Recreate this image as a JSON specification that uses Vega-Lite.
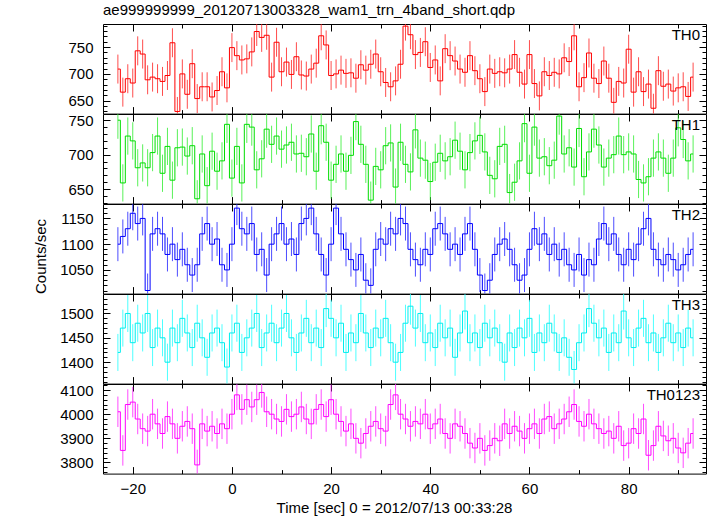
{
"$schema":"https://vega.github.io/schema/vega-lite/v6.json",
"padding":{"left":33,"top":3,"right":5,"bottom":5},
"bounds":"flush",
"title":{"text":"ae999999999_20120713003328_wam1_trn_4band_short.qdp","anchor":"start","frame":"group","fontSize":15,"fontWeight":"normal","font":"Liberation Sans","color":"black","offset":5,"dx":0},
"datasets":{
"e":[{"b":"TH0","e":27},{"b":"TH1","e":27},{"b":"TH2","e":33},{"b":"TH3","e":38},{"b":"TH0123","e":63}],
"d":[
{"b":"TH0","t":-23,"v":709},{"b":"TH0","t":-22,"v":666},{"b":"TH0","t":-21,"v":691},{"b":"TH0","t":-20,"v":683},{"b":"TH0","t":-19,"v":743},{"b":"TH0","t":-18,"v":737},{"b":"TH0","t":-17,"v":689},{"b":"TH0","t":-16,"v":694},{"b":"TH0","t":-15,"v":691},{"b":"TH0","t":-14,"v":686},{"b":"TH0","t":-13,"v":697},{"b":"TH0","t":-12,"v":758},{"b":"TH0","t":-11,"v":630},{"b":"TH0","t":-10,"v":700},{"b":"TH0","t":-9,"v":662},{"b":"TH0","t":-8,"v":719},{"b":"TH0","t":-7,"v":654},{"b":"TH0","t":-6,"v":676},{"b":"TH0","t":-5,"v":676},{"b":"TH0","t":-4,"v":657},{"b":"TH0","t":-3,"v":669},{"b":"TH0","t":-2,"v":704},{"b":"TH0","t":-1,"v":674},{"b":"TH0","t":0,"v":749},{"b":"TH0","t":1,"v":734},{"b":"TH0","t":2,"v":726},{"b":"TH0","t":3,"v":728},{"b":"TH0","t":4,"v":741},{"b":"TH0","t":5,"v":779},{"b":"TH0","t":6,"v":768},{"b":"TH0","t":7,"v":772},{"b":"TH0","t":8,"v":694},{"b":"TH0","t":9,"v":759},{"b":"TH0","t":10,"v":704},{"b":"TH0","t":11,"v":722},{"b":"TH0","t":12,"v":699},{"b":"TH0","t":13,"v":732},{"b":"TH0","t":14,"v":698},{"b":"TH0","t":15,"v":696},{"b":"TH0","t":16,"v":709},{"b":"TH0","t":17,"v":720},{"b":"TH0","t":18,"v":771},{"b":"TH0","t":19,"v":754},{"b":"TH0","t":20,"v":697},{"b":"TH0","t":21,"v":700},{"b":"TH0","t":22,"v":707},{"b":"TH0","t":23,"v":701},{"b":"TH0","t":24,"v":702},{"b":"TH0","t":25,"v":692},{"b":"TH0","t":26,"v":717},{"b":"TH0","t":27,"v":707},{"b":"TH0","t":28,"v":718},{"b":"TH0","t":29,"v":737},{"b":"TH0","t":30,"v":704},{"b":"TH0","t":31,"v":684},{"b":"TH0","t":32,"v":676},{"b":"TH0","t":33,"v":687},{"b":"TH0","t":34,"v":718},{"b":"TH0","t":35,"v":789},{"b":"TH0","t":36,"v":773},{"b":"TH0","t":37,"v":736},{"b":"TH0","t":38,"v":740},{"b":"TH0","t":39,"v":760},{"b":"TH0","t":40,"v":712},{"b":"TH0","t":41,"v":726},{"b":"TH0","t":42,"v":687},{"b":"TH0","t":43,"v":747},{"b":"TH0","t":44,"v":734},{"b":"TH0","t":45,"v":724},{"b":"TH0","t":46,"v":709},{"b":"TH0","t":47,"v":703},{"b":"TH0","t":48,"v":734},{"b":"TH0","t":49,"v":706},{"b":"TH0","t":50,"v":691},{"b":"TH0","t":51,"v":667},{"b":"TH0","t":52,"v":709},{"b":"TH0","t":53,"v":701},{"b":"TH0","t":54,"v":704},{"b":"TH0","t":55,"v":702},{"b":"TH0","t":56,"v":709},{"b":"TH0","t":57,"v":736},{"b":"TH0","t":58,"v":703},{"b":"TH0","t":59,"v":681},{"b":"TH0","t":60,"v":736},{"b":"TH0","t":61,"v":682},{"b":"TH0","t":62,"v":659},{"b":"TH0","t":63,"v":704},{"b":"TH0","t":64,"v":697},{"b":"TH0","t":65,"v":703},{"b":"TH0","t":66,"v":700},{"b":"TH0","t":67,"v":730},{"b":"TH0","t":68,"v":723},{"b":"TH0","t":69,"v":771},{"b":"TH0","t":70,"v":676},{"b":"TH0","t":71,"v":693},{"b":"TH0","t":72,"v":739},{"b":"TH0","t":73,"v":692},{"b":"TH0","t":74,"v":682},{"b":"TH0","t":75,"v":724},{"b":"TH0","t":76,"v":692},{"b":"TH0","t":77,"v":647},{"b":"TH0","t":78,"v":686},{"b":"TH0","t":79,"v":683},{"b":"TH0","t":80,"v":746},{"b":"TH0","t":81,"v":666},{"b":"TH0","t":82,"v":704},{"b":"TH0","t":83,"v":667},{"b":"TH0","t":84,"v":681},{"b":"TH0","t":85,"v":636},{"b":"TH0","t":86,"v":706},{"b":"TH0","t":87,"v":677},{"b":"TH0","t":88,"v":681},{"b":"TH0","t":89,"v":668},{"b":"TH0","t":90,"v":674},{"b":"TH0","t":91,"v":676},{"b":"TH0","t":92,"v":658},{"b":"TH0","t":93,"v":694},
{"b":"TH1","t":-23,"v":750},{"b":"TH1","t":-22,"v":659},{"b":"TH1","t":-21,"v":727},{"b":"TH1","t":-20,"v":720},{"b":"TH1","t":-19,"v":681},{"b":"TH1","t":-18,"v":688},{"b":"TH1","t":-17,"v":681},{"b":"TH1","t":-16,"v":703},{"b":"TH1","t":-15,"v":727},{"b":"TH1","t":-14,"v":673},{"b":"TH1","t":-13,"v":712},{"b":"TH1","t":-12,"v":663},{"b":"TH1","t":-11,"v":710},{"b":"TH1","t":-10,"v":711},{"b":"TH1","t":-9,"v":698},{"b":"TH1","t":-8,"v":713},{"b":"TH1","t":-7,"v":636},{"b":"TH1","t":-6,"v":701},{"b":"TH1","t":-5,"v":655},{"b":"TH1","t":-4,"v":705},{"b":"TH1","t":-3,"v":676},{"b":"TH1","t":-2,"v":691},{"b":"TH1","t":-1,"v":744},{"b":"TH1","t":0,"v":666},{"b":"TH1","t":1,"v":712},{"b":"TH1","t":2,"v":659},{"b":"TH1","t":3,"v":744},{"b":"TH1","t":4,"v":740},{"b":"TH1","t":5,"v":678},{"b":"TH1","t":6,"v":694},{"b":"TH1","t":7,"v":737},{"b":"TH1","t":8,"v":715},{"b":"TH1","t":9,"v":727},{"b":"TH1","t":10,"v":708},{"b":"TH1","t":11,"v":714},{"b":"TH1","t":12,"v":718},{"b":"TH1","t":13,"v":701},{"b":"TH1","t":14,"v":702},{"b":"TH1","t":15,"v":697},{"b":"TH1","t":16,"v":730},{"b":"TH1","t":17,"v":676},{"b":"TH1","t":18,"v":742},{"b":"TH1","t":19,"v":718},{"b":"TH1","t":20,"v":663},{"b":"TH1","t":21,"v":686},{"b":"TH1","t":22,"v":701},{"b":"TH1","t":23,"v":676},{"b":"TH1","t":24,"v":699},{"b":"TH1","t":25,"v":748},{"b":"TH1","t":26,"v":715},{"b":"TH1","t":27,"v":686},{"b":"TH1","t":28,"v":634},{"b":"TH1","t":29,"v":683},{"b":"TH1","t":30,"v":678},{"b":"TH1","t":31,"v":713},{"b":"TH1","t":32,"v":717},{"b":"TH1","t":33,"v":653},{"b":"TH1","t":34,"v":718},{"b":"TH1","t":35,"v":686},{"b":"TH1","t":36,"v":675},{"b":"TH1","t":37,"v":736},{"b":"TH1","t":38,"v":695},{"b":"TH1","t":39,"v":692},{"b":"TH1","t":40,"v":661},{"b":"TH1","t":41,"v":689},{"b":"TH1","t":42,"v":702},{"b":"TH1","t":43,"v":691},{"b":"TH1","t":44,"v":697},{"b":"TH1","t":45,"v":721},{"b":"TH1","t":46,"v":705},{"b":"TH1","t":47,"v":678},{"b":"TH1","t":48,"v":703},{"b":"TH1","t":49,"v":720},{"b":"TH1","t":50,"v":728},{"b":"TH1","t":51,"v":704},{"b":"TH1","t":52,"v":670},{"b":"TH1","t":53,"v":665},{"b":"TH1","t":54,"v":712},{"b":"TH1","t":55,"v":715},{"b":"TH1","t":56,"v":645},{"b":"TH1","t":57,"v":660},{"b":"TH1","t":58,"v":691},{"b":"TH1","t":59,"v":745},{"b":"TH1","t":60,"v":673},{"b":"TH1","t":61,"v":740},{"b":"TH1","t":62,"v":695},{"b":"TH1","t":63,"v":697},{"b":"TH1","t":64,"v":684},{"b":"TH1","t":65,"v":692},{"b":"TH1","t":66,"v":756},{"b":"TH1","t":67,"v":701},{"b":"TH1","t":68,"v":710},{"b":"TH1","t":69,"v":682},{"b":"TH1","t":70,"v":738},{"b":"TH1","t":71,"v":668},{"b":"TH1","t":72,"v":704},{"b":"TH1","t":73,"v":737},{"b":"TH1","t":74,"v":714},{"b":"TH1","t":75,"v":682},{"b":"TH1","t":76,"v":695},{"b":"TH1","t":77,"v":700},{"b":"TH1","t":78,"v":727},{"b":"TH1","t":79,"v":700},{"b":"TH1","t":80,"v":704},{"b":"TH1","t":81,"v":701},{"b":"TH1","t":82,"v":664},{"b":"TH1","t":83,"v":659},{"b":"TH1","t":84,"v":668},{"b":"TH1","t":85,"v":695},{"b":"TH1","t":86,"v":704},{"b":"TH1","t":87,"v":695},{"b":"TH1","t":88,"v":673},{"b":"TH1","t":89,"v":695},{"b":"TH1","t":90,"v":739},{"b":"TH1","t":91,"v":722},{"b":"TH1","t":92,"v":691},{"b":"TH1","t":93,"v":701},
{"b":"TH2","t":-23,"v":1100},{"b":"TH2","t":-22,"v":1115},{"b":"TH2","t":-21,"v":1130},{"b":"TH2","t":-20,"v":1160},{"b":"TH2","t":-19,"v":1140},{"b":"TH2","t":-18,"v":1150},{"b":"TH2","t":-17,"v":1010},{"b":"TH2","t":-16,"v":1120},{"b":"TH2","t":-15,"v":1130},{"b":"TH2","t":-14,"v":1120},{"b":"TH2","t":-13,"v":1080},{"b":"TH2","t":-12,"v":1100},{"b":"TH2","t":-11,"v":1070},{"b":"TH2","t":-10,"v":1090},{"b":"TH2","t":-9,"v":1060},{"b":"TH2","t":-8,"v":1040},{"b":"TH2","t":-7,"v":1060},{"b":"TH2","t":-6,"v":1120},{"b":"TH2","t":-5,"v":1140},{"b":"TH2","t":-4,"v":1100},{"b":"TH2","t":-3,"v":1110},{"b":"TH2","t":-2,"v":1060},{"b":"TH2","t":-1,"v":1050},{"b":"TH2","t":0,"v":1100},{"b":"TH2","t":1,"v":1170},{"b":"TH2","t":2,"v":1130},{"b":"TH2","t":3,"v":1120},{"b":"TH2","t":4,"v":1140},{"b":"TH2","t":5,"v":1080},{"b":"TH2","t":6,"v":1090},{"b":"TH2","t":7,"v":1040},{"b":"TH2","t":8,"v":1100},{"b":"TH2","t":9,"v":1120},{"b":"TH2","t":10,"v":1140},{"b":"TH2","t":11,"v":1100},{"b":"TH2","t":12,"v":1110},{"b":"TH2","t":13,"v":1080},{"b":"TH2","t":14,"v":1140},{"b":"TH2","t":15,"v":1150},{"b":"TH2","t":16,"v":1170},{"b":"TH2","t":17,"v":1120},{"b":"TH2","t":18,"v":1080},{"b":"TH2","t":19,"v":1040},{"b":"TH2","t":20,"v":1100},{"b":"TH2","t":21,"v":1170},{"b":"TH2","t":22,"v":1120},{"b":"TH2","t":23,"v":1090},{"b":"TH2","t":24,"v":1070},{"b":"TH2","t":25,"v":1050},{"b":"TH2","t":26,"v":1080},{"b":"TH2","t":27,"v":1030},{"b":"TH2","t":28,"v":1020},{"b":"TH2","t":29,"v":1090},{"b":"TH2","t":30,"v":1110},{"b":"TH2","t":31,"v":1100},{"b":"TH2","t":32,"v":1130},{"b":"TH2","t":33,"v":1120},{"b":"TH2","t":34,"v":1150},{"b":"TH2","t":35,"v":1140},{"b":"TH2","t":36,"v":1090},{"b":"TH2","t":37,"v":1070},{"b":"TH2","t":38,"v":1060},{"b":"TH2","t":39,"v":1090},{"b":"TH2","t":40,"v":1080},{"b":"TH2","t":41,"v":1130},{"b":"TH2","t":42,"v":1140},{"b":"TH2","t":43,"v":1120},{"b":"TH2","t":44,"v":1090},{"b":"TH2","t":45,"v":1100},{"b":"TH2","t":46,"v":1080},{"b":"TH2","t":47,"v":1120},{"b":"TH2","t":48,"v":1140},{"b":"TH2","t":49,"v":1090},{"b":"TH2","t":50,"v":1040},{"b":"TH2","t":51,"v":1010},{"b":"TH2","t":52,"v":1030},{"b":"TH2","t":53,"v":1080},{"b":"TH2","t":54,"v":1100},{"b":"TH2","t":55,"v":1110},{"b":"TH2","t":56,"v":1090},{"b":"TH2","t":57,"v":1060},{"b":"TH2","t":58,"v":1030},{"b":"TH2","t":59,"v":1040},{"b":"TH2","t":60,"v":1090},{"b":"TH2","t":61,"v":1130},{"b":"TH2","t":62,"v":1100},{"b":"TH2","t":63,"v":1120},{"b":"TH2","t":64,"v":1080},{"b":"TH2","t":65,"v":1100},{"b":"TH2","t":66,"v":1070},{"b":"TH2","t":67,"v":1090},{"b":"TH2","t":68,"v":1060},{"b":"TH2","t":69,"v":1050},{"b":"TH2","t":70,"v":1080},{"b":"TH2","t":71,"v":1040},{"b":"TH2","t":72,"v":1070},{"b":"TH2","t":73,"v":1060},{"b":"TH2","t":74,"v":1110},{"b":"TH2","t":75,"v":1140},{"b":"TH2","t":76,"v":1100},{"b":"TH2","t":77,"v":1120},{"b":"TH2","t":78,"v":1080},{"b":"TH2","t":79,"v":1060},{"b":"TH2","t":80,"v":1090},{"b":"TH2","t":81,"v":1070},{"b":"TH2","t":82,"v":1100},{"b":"TH2","t":83,"v":1130},{"b":"TH2","t":84,"v":1150},{"b":"TH2","t":85,"v":1090},{"b":"TH2","t":86,"v":1070},{"b":"TH2","t":87,"v":1060},{"b":"TH2","t":88,"v":1080},{"b":"TH2","t":89,"v":1070},{"b":"TH2","t":90,"v":1050},{"b":"TH2","t":91,"v":1060},{"b":"TH2","t":92,"v":1080},{"b":"TH2","t":93,"v":1090},
{"b":"TH3","t":-23,"v":1420},{"b":"TH3","t":-22,"v":1470},{"b":"TH3","t":-21,"v":1500},{"b":"TH3","t":-20,"v":1440},{"b":"TH3","t":-19,"v":1480},{"b":"TH3","t":-18,"v":1460},{"b":"TH3","t":-17,"v":1500},{"b":"TH3","t":-16,"v":1430},{"b":"TH3","t":-15,"v":1470},{"b":"TH3","t":-14,"v":1450},{"b":"TH3","t":-13,"v":1400},{"b":"TH3","t":-12,"v":1470},{"b":"TH3","t":-11,"v":1440},{"b":"TH3","t":-10,"v":1490},{"b":"TH3","t":-9,"v":1460},{"b":"TH3","t":-8,"v":1430},{"b":"TH3","t":-7,"v":1480},{"b":"TH3","t":-6,"v":1450},{"b":"TH3","t":-5,"v":1410},{"b":"TH3","t":-4,"v":1460},{"b":"TH3","t":-3,"v":1470},{"b":"TH3","t":-2,"v":1440},{"b":"TH3","t":-1,"v":1390},{"b":"TH3","t":0,"v":1460},{"b":"TH3","t":1,"v":1480},{"b":"TH3","t":2,"v":1420},{"b":"TH3","t":3,"v":1450},{"b":"TH3","t":4,"v":1470},{"b":"TH3","t":5,"v":1500},{"b":"TH3","t":6,"v":1430},{"b":"TH3","t":7,"v":1460},{"b":"TH3","t":8,"v":1480},{"b":"TH3","t":9,"v":1440},{"b":"TH3","t":10,"v":1470},{"b":"TH3","t":11,"v":1500},{"b":"TH3","t":12,"v":1450},{"b":"TH3","t":13,"v":1420},{"b":"TH3","t":14,"v":1460},{"b":"TH3","t":15,"v":1490},{"b":"TH3","t":16,"v":1440},{"b":"TH3","t":17,"v":1470},{"b":"TH3","t":18,"v":1430},{"b":"TH3","t":19,"v":1510},{"b":"TH3","t":20,"v":1490},{"b":"TH3","t":21,"v":1450},{"b":"TH3","t":22,"v":1480},{"b":"TH3","t":23,"v":1420},{"b":"TH3","t":24,"v":1460},{"b":"TH3","t":25,"v":1440},{"b":"TH3","t":26,"v":1500},{"b":"TH3","t":27,"v":1460},{"b":"TH3","t":28,"v":1430},{"b":"TH3","t":29,"v":1470},{"b":"TH3","t":30,"v":1450},{"b":"TH3","t":31,"v":1490},{"b":"TH3","t":32,"v":1440},{"b":"TH3","t":33,"v":1400},{"b":"TH3","t":34,"v":1420},{"b":"TH3","t":35,"v":1480},{"b":"TH3","t":36,"v":1515},{"b":"TH3","t":37,"v":1470},{"b":"TH3","t":38,"v":1500},{"b":"TH3","t":39,"v":1440},{"b":"TH3","t":40,"v":1460},{"b":"TH3","t":41,"v":1430},{"b":"TH3","t":42,"v":1480},{"b":"TH3","t":43,"v":1450},{"b":"TH3","t":44,"v":1470},{"b":"TH3","t":45,"v":1410},{"b":"TH3","t":46,"v":1460},{"b":"TH3","t":47,"v":1505},{"b":"TH3","t":48,"v":1440},{"b":"TH3","t":49,"v":1460},{"b":"TH3","t":50,"v":1430},{"b":"TH3","t":51,"v":1480},{"b":"TH3","t":52,"v":1450},{"b":"TH3","t":53,"v":1470},{"b":"TH3","t":54,"v":1440},{"b":"TH3","t":55,"v":1400},{"b":"TH3","t":56,"v":1460},{"b":"TH3","t":57,"v":1430},{"b":"TH3","t":58,"v":1470},{"b":"TH3","t":59,"v":1450},{"b":"TH3","t":60,"v":1490},{"b":"TH3","t":61,"v":1420},{"b":"TH3","t":62,"v":1460},{"b":"TH3","t":63,"v":1440},{"b":"TH3","t":64,"v":1480},{"b":"TH3","t":65,"v":1460},{"b":"TH3","t":66,"v":1420},{"b":"TH3","t":67,"v":1450},{"b":"TH3","t":68,"v":1410},{"b":"TH3","t":69,"v":1385},{"b":"TH3","t":70,"v":1440},{"b":"TH3","t":71,"v":1460},{"b":"TH3","t":72,"v":1510},{"b":"TH3","t":73,"v":1480},{"b":"TH3","t":74,"v":1450},{"b":"TH3","t":75,"v":1470},{"b":"TH3","t":76,"v":1420},{"b":"TH3","t":77,"v":1460},{"b":"TH3","t":78,"v":1440},{"b":"TH3","t":79,"v":1505},{"b":"TH3","t":80,"v":1450},{"b":"TH3","t":81,"v":1430},{"b":"TH3","t":82,"v":1470},{"b":"TH3","t":83,"v":1490},{"b":"TH3","t":84,"v":1440},{"b":"TH3","t":85,"v":1460},{"b":"TH3","t":86,"v":1420},{"b":"TH3","t":87,"v":1450},{"b":"TH3","t":88,"v":1480},{"b":"TH3","t":89,"v":1440},{"b":"TH3","t":90,"v":1460},{"b":"TH3","t":91,"v":1430},{"b":"TH3","t":92,"v":1470},{"b":"TH3","t":93,"v":1450},
{"b":"TH0123","t":-23,"v":4010},{"b":"TH0123","t":-22,"v":3850},{"b":"TH0123","t":-21,"v":4040},{"b":"TH0123","t":-20,"v":4050},{"b":"TH0123","t":-19,"v":3980},{"b":"TH0123","t":-18,"v":3940},{"b":"TH0123","t":-17,"v":3930},{"b":"TH0123","t":-16,"v":4000},{"b":"TH0123","t":-15,"v":3960},{"b":"TH0123","t":-14,"v":3920},{"b":"TH0123","t":-13,"v":3990},{"b":"TH0123","t":-12,"v":3960},{"b":"TH0123","t":-11,"v":3900},{"b":"TH0123","t":-10,"v":3950},{"b":"TH0123","t":-9,"v":3970},{"b":"TH0123","t":-8,"v":3940},{"b":"TH0123","t":-7,"v":3790},{"b":"TH0123","t":-6,"v":3960},{"b":"TH0123","t":-5,"v":3930},{"b":"TH0123","t":-4,"v":3950},{"b":"TH0123","t":-3,"v":3920},{"b":"TH0123","t":-2,"v":3960},{"b":"TH0123","t":-1,"v":3940},{"b":"TH0123","t":0,"v":4000},{"b":"TH0123","t":1,"v":4080},{"b":"TH0123","t":2,"v":4020},{"b":"TH0123","t":3,"v":4060},{"b":"TH0123","t":4,"v":4030},{"b":"TH0123","t":5,"v":4060},{"b":"TH0123","t":6,"v":4090},{"b":"TH0123","t":7,"v":4010},{"b":"TH0123","t":8,"v":4000},{"b":"TH0123","t":9,"v":3980},{"b":"TH0123","t":10,"v":3970},{"b":"TH0123","t":11,"v":4020},{"b":"TH0123","t":12,"v":3990},{"b":"TH0123","t":13,"v":4000},{"b":"TH0123","t":14,"v":4030},{"b":"TH0123","t":15,"v":3980},{"b":"TH0123","t":16,"v":3960},{"b":"TH0123","t":17,"v":4020},{"b":"TH0123","t":18,"v":4040},{"b":"TH0123","t":19,"v":3990},{"b":"TH0123","t":20,"v":4060},{"b":"TH0123","t":21,"v":4000},{"b":"TH0123","t":22,"v":3970},{"b":"TH0123","t":23,"v":3930},{"b":"TH0123","t":24,"v":3960},{"b":"TH0123","t":25,"v":3900},{"b":"TH0123","t":26,"v":3880},{"b":"TH0123","t":27,"v":3920},{"b":"TH0123","t":28,"v":3950},{"b":"TH0123","t":29,"v":3970},{"b":"TH0123","t":30,"v":3940},{"b":"TH0123","t":31,"v":3930},{"b":"TH0123","t":32,"v":4040},{"b":"TH0123","t":33,"v":4080},{"b":"TH0123","t":34,"v":4000},{"b":"TH0123","t":35,"v":3980},{"b":"TH0123","t":36,"v":3950},{"b":"TH0123","t":37,"v":3970},{"b":"TH0123","t":38,"v":3960},{"b":"TH0123","t":39,"v":4000},{"b":"TH0123","t":40,"v":3940},{"b":"TH0123","t":41,"v":3960},{"b":"TH0123","t":42,"v":3980},{"b":"TH0123","t":43,"v":3920},{"b":"TH0123","t":44,"v":3900},{"b":"TH0123","t":45,"v":3960},{"b":"TH0123","t":46,"v":3950},{"b":"TH0123","t":47,"v":3920},{"b":"TH0123","t":48,"v":3880},{"b":"TH0123","t":49,"v":3860},{"b":"TH0123","t":50,"v":3900},{"b":"TH0123","t":51,"v":3850},{"b":"TH0123","t":52,"v":3870},{"b":"TH0123","t":53,"v":3900},{"b":"TH0123","t":54,"v":3890},{"b":"TH0123","t":55,"v":3960},{"b":"TH0123","t":56,"v":3920},{"b":"TH0123","t":57,"v":3950},{"b":"TH0123","t":58,"v":3930},{"b":"TH0123","t":59,"v":3900},{"b":"TH0123","t":60,"v":3940},{"b":"TH0123","t":61,"v":3960},{"b":"TH0123","t":62,"v":3920},{"b":"TH0123","t":63,"v":3980},{"b":"TH0123","t":64,"v":3990},{"b":"TH0123","t":65,"v":3940},{"b":"TH0123","t":66,"v":3960},{"b":"TH0123","t":67,"v":3980},{"b":"TH0123","t":68,"v":4010},{"b":"TH0123","t":69,"v":4040},{"b":"TH0123","t":70,"v":3970},{"b":"TH0123","t":71,"v":3950},{"b":"TH0123","t":72,"v":4000},{"b":"TH0123","t":73,"v":3960},{"b":"TH0123","t":74,"v":3940},{"b":"TH0123","t":75,"v":3920},{"b":"TH0123","t":76,"v":3930},{"b":"TH0123","t":77,"v":3900},{"b":"TH0123","t":78,"v":3950},{"b":"TH0123","t":79,"v":3870},{"b":"TH0123","t":80,"v":3880},{"b":"TH0123","t":81,"v":3940},{"b":"TH0123","t":82,"v":3920},{"b":"TH0123","t":83,"v":3980},{"b":"TH0123","t":84,"v":3830},{"b":"TH0123","t":85,"v":3870},{"b":"TH0123","t":86,"v":3950},{"b":"TH0123","t":87,"v":3910},{"b":"TH0123","t":88,"v":3890},{"b":"TH0123","t":89,"v":3900},{"b":"TH0123","t":90,"v":3860},{"b":"TH0123","t":91,"v":3840},{"b":"TH0123","t":92,"v":3880},{"b":"TH0123","t":93,"v":3920}
]},
"spacing":0,
"vconcat":[
{"width":603,"height":89.6,"data":{"name":"d"},
 "transform":[{"filter":"datum.b === 'TH0'"},{"lookup":"b","from":{"data":{"name":"e"},"key":"b","fields":["e"]}}],
 "layer":[
  {"mark":{"type":"errorbar","color":"#ff2020","opacity":0.8,"clip":true},
   "encoding":{
    "x":{"field":"t","type":"quantitative","scale":{"domain":[-26,95.6],"nice":false,"zero":false},"axis":{"orient":"bottom","values":[-20,-10,0,10,20,30,40,50,60,70,80,90],"tickSize":{"condition":{"test":"datum.value % 20 === 0","value":-7},"value":-4},"labels":false,"title":null}},
    "y":{"field":"v","type":"quantitative","scale":{"domain":[626,793],"nice":false,"zero":false},"axis":{"orient":"left","format":"d","values":[630,640,650,660,670,680,690,700,710,720,730,740,750,760,770,780,790],"tickSize":{"condition":{"test":"datum.value % 50 === 0","value":-7},"value":-4},"labelExpr":"datum.value % 50 === 0 ? datum.label : ''","labelPadding":17,"title":null}},
    "yError":{"field":"e"}}},
  {"mark":{"type":"line","interpolate":"step","color":"#ff0000","strokeWidth":1,"clip":true},
   "encoding":{
    "x":{"field":"t","type":"quantitative","axis":{"orient":"top","values":[-20,-10,0,10,20,30,40,50,60,70,80,90],"tickSize":{"condition":{"test":"datum.value % 20 === 0","value":-7},"value":-4},"labels":false,"title":null}},
    "y":{"field":"v","type":"quantitative","axis":{"orient":"right","values":[630,640,650,660,670,680,690,700,710,720,730,740,750,760,770,780,790],"tickSize":{"condition":{"test":"datum.value % 50 === 0","value":-7},"value":-4},"labels":false,"title":null}}}},
  {"data":{"values":[{}]},"mark":{"type":"text","text":"TH0","align":"right","baseline":"top","x":{"expr":"width-6"},"y":4,"fontSize":15,"font":"Liberation Sans","color":"black"}}
 ],
 "resolve":{"axis":{"x":"independent","y":"independent"}}},
{"width":603,"height":89.6,"data":{"name":"d"},
 "transform":[{"filter":"datum.b === 'TH1'"},{"lookup":"b","from":{"data":{"name":"e"},"key":"b","fields":["e"]}}],
 "layer":[
  {"mark":{"type":"errorbar","color":"#30ee30","opacity":0.8,"clip":true},
   "encoding":{
    "x":{"field":"t","type":"quantitative","scale":{"domain":[-26,95.6],"nice":false,"zero":false},"axis":{"orient":"bottom","values":[-20,-10,0,10,20,30,40,50,60,70,80,90],"tickSize":{"condition":{"test":"datum.value % 20 === 0","value":-7},"value":-4},"labels":false,"title":null}},
    "y":{"field":"v","type":"quantitative","scale":{"domain":[629,759],"nice":false,"zero":false},"axis":{"orient":"left","format":"d","values":[630,640,650,660,670,680,690,700,710,720,730,740,750],"tickSize":{"condition":{"test":"datum.value % 50 === 0","value":-7},"value":-4},"labelExpr":"datum.value % 50 === 0 ? datum.label : ''","labelPadding":17,"title":null}},
    "yError":{"field":"e"}}},
  {"mark":{"type":"line","interpolate":"step","color":"#00dd00","strokeWidth":1,"clip":true},
   "encoding":{
    "x":{"field":"t","type":"quantitative","axis":{"orient":"top","values":[-20,-10,0,10,20,30,40,50,60,70,80,90],"tickSize":{"condition":{"test":"datum.value % 20 === 0","value":-7},"value":-4},"labels":false,"title":null}},
    "y":{"field":"v","type":"quantitative","axis":{"orient":"right","values":[630,640,650,660,670,680,690,700,710,720,730,740,750],"tickSize":{"condition":{"test":"datum.value % 50 === 0","value":-7},"value":-4},"labels":false,"title":null}}}},
  {"data":{"values":[{}]},"mark":{"type":"text","text":"TH1","align":"right","baseline":"top","x":{"expr":"width-6"},"y":4,"fontSize":15,"font":"Liberation Sans","color":"black"}}
 ],
 "resolve":{"axis":{"x":"independent","y":"independent"}}},
{"width":603,"height":89.6,"data":{"name":"d"},
 "transform":[{"filter":"datum.b === 'TH2'"},{"lookup":"b","from":{"data":{"name":"e"},"key":"b","fields":["e"]}}],
 "layer":[
  {"mark":{"type":"errorbar","color":"#2020ff","opacity":0.8,"clip":true},
   "encoding":{
    "x":{"field":"t","type":"quantitative","scale":{"domain":[-26,95.6],"nice":false,"zero":false},"axis":{"orient":"bottom","values":[-20,-10,0,10,20,30,40,50,60,70,80,90],"tickSize":{"condition":{"test":"datum.value % 20 === 0","value":-7},"value":-4},"labels":false,"title":null}},
    "y":{"field":"v","type":"quantitative","scale":{"domain":[1004,1178],"nice":false,"zero":false},"axis":{"orient":"left","format":"d","values":[1010,1020,1030,1040,1050,1060,1070,1080,1090,1100,1110,1120,1130,1140,1150,1160,1170],"tickSize":{"condition":{"test":"datum.value % 50 === 0","value":-7},"value":-4},"labelExpr":"datum.value % 50 === 0 ? datum.label : ''","labelPadding":17,"title":"Counts/sec","titleFontWeight":"normal","titlePadding":11,"titleY":52}},
    "yError":{"field":"e"}}},
  {"mark":{"type":"line","interpolate":"step","color":"#0000ff","strokeWidth":1,"clip":true},
   "encoding":{
    "x":{"field":"t","type":"quantitative","axis":{"orient":"top","values":[-20,-10,0,10,20,30,40,50,60,70,80,90],"tickSize":{"condition":{"test":"datum.value % 20 === 0","value":-7},"value":-4},"labels":false,"title":null}},
    "y":{"field":"v","type":"quantitative","axis":{"orient":"right","values":[1010,1020,1030,1040,1050,1060,1070,1080,1090,1100,1110,1120,1130,1140,1150,1160,1170],"tickSize":{"condition":{"test":"datum.value % 50 === 0","value":-7},"value":-4},"labels":false,"title":null}}}},
  {"data":{"values":[{}]},"mark":{"type":"text","text":"TH2","align":"right","baseline":"top","x":{"expr":"width-6"},"y":4,"fontSize":15,"font":"Liberation Sans","color":"black"}}
 ],
 "resolve":{"axis":{"x":"independent","y":"independent"}}},
{"width":603,"height":89.6,"data":{"name":"d"},
 "transform":[{"filter":"datum.b === 'TH3'"},{"lookup":"b","from":{"data":{"name":"e"},"key":"b","fields":["e"]}}],
 "layer":[
  {"mark":{"type":"errorbar","color":"#20ffff","opacity":0.8,"clip":true},
   "encoding":{
    "x":{"field":"t","type":"quantitative","scale":{"domain":[-26,95.6],"nice":false,"zero":false},"axis":{"orient":"bottom","values":[-20,-10,0,10,20,30,40,50,60,70,80,90],"tickSize":{"condition":{"test":"datum.value % 20 === 0","value":-7},"value":-4},"labels":false,"title":null}},
    "y":{"field":"v","type":"quantitative","scale":{"domain":[1356,1540],"nice":false,"zero":false},"axis":{"orient":"left","format":"d","values":[1360,1370,1380,1390,1400,1410,1420,1430,1440,1450,1460,1470,1480,1490,1500,1510,1520,1530],"tickSize":{"condition":{"test":"datum.value % 50 === 0","value":-7},"value":-4},"labelExpr":"datum.value % 50 === 0 ? datum.label : ''","labelPadding":17,"title":null}},
    "yError":{"field":"e"}}},
  {"mark":{"type":"line","interpolate":"step","color":"#00eeee","strokeWidth":1,"clip":true},
   "encoding":{
    "x":{"field":"t","type":"quantitative","axis":{"orient":"top","values":[-20,-10,0,10,20,30,40,50,60,70,80,90],"tickSize":{"condition":{"test":"datum.value % 20 === 0","value":-7},"value":-4},"labels":false,"title":null}},
    "y":{"field":"v","type":"quantitative","axis":{"orient":"right","values":[1360,1370,1380,1390,1400,1410,1420,1430,1440,1450,1460,1470,1480,1490,1500,1510,1520,1530],"tickSize":{"condition":{"test":"datum.value % 50 === 0","value":-7},"value":-4},"labels":false,"title":null}}}},
  {"data":{"values":[{}]},"mark":{"type":"text","text":"TH3","align":"right","baseline":"top","x":{"expr":"width-6"},"y":4,"fontSize":15,"font":"Liberation Sans","color":"black"}}
 ],
 "resolve":{"axis":{"x":"independent","y":"independent"}}},
{"width":603,"height":89.6,"data":{"name":"d"},
 "transform":[{"filter":"datum.b === 'TH0123'"},{"lookup":"b","from":{"data":{"name":"e"},"key":"b","fields":["e"]}}],
 "layer":[
  {"mark":{"type":"errorbar","color":"#ff20ff","opacity":0.8,"clip":true},
   "encoding":{
    "x":{"field":"t","type":"quantitative","scale":{"domain":[-26,95.6],"nice":false,"zero":false},"axis":{"orient":"bottom","values":[-20,-10,0,10,20,30,40,50,60,70,80,90],"tickSize":{"condition":{"test":"datum.value % 20 === 0","value":-7},"value":-4},"labelExpr":"datum.value % 20 === 0 ? datum.label : ''","labelPadding":15,"title":"Time [sec] 0 = 2012/07/13 00:33:28","titleFontWeight":"normal","titlePadding":4,"titleX":291}},
    "y":{"field":"v","type":"quantitative","scale":{"domain":[3754,4125],"nice":false,"zero":false},"axis":{"orient":"left","format":"d","values":[3760,3780,3800,3820,3840,3860,3880,3900,3920,3940,3960,3980,4000,4020,4040,4060,4080,4100,4120],"tickSize":{"condition":{"test":"datum.value % 100 === 0","value":-7},"value":-4},"labelExpr":"datum.value % 100 === 0 ? datum.label : ''","labelPadding":17,"title":null}},
    "yError":{"field":"e"}}},
  {"mark":{"type":"line","interpolate":"step","color":"#ff00ff","strokeWidth":1,"clip":true},
   "encoding":{
    "x":{"field":"t","type":"quantitative","axis":{"orient":"top","values":[-20,-10,0,10,20,30,40,50,60,70,80,90],"tickSize":{"condition":{"test":"datum.value % 20 === 0","value":-7},"value":-4},"labels":false,"title":null}},
    "y":{"field":"v","type":"quantitative","axis":{"orient":"right","values":[3760,3780,3800,3820,3840,3860,3880,3900,3920,3940,3960,3980,4000,4020,4040,4060,4080,4100,4120],"tickSize":{"condition":{"test":"datum.value % 100 === 0","value":-7},"value":-4},"labels":false,"title":null}}}},
  {"data":{"values":[{}]},"mark":{"type":"text","text":"TH0123","align":"right","baseline":"top","x":{"expr":"width-6"},"y":4,"fontSize":15,"font":"Liberation Sans","color":"black"}}
 ],
 "resolve":{"axis":{"x":"independent","y":"independent"}}}
],
"config":{"font":"Liberation Sans","view":{"stroke":"black","strokeWidth":1},"axis":{"labelFontSize":15,"titleFontSize":15,"labelColor":"black","titleColor":"black","titleFontWeight":"normal","tickColor":"black","tickWidth":1,"grid":false,"domain":false,"labelFont":"Liberation Sans","titleFont":"Liberation Sans"}}
}
